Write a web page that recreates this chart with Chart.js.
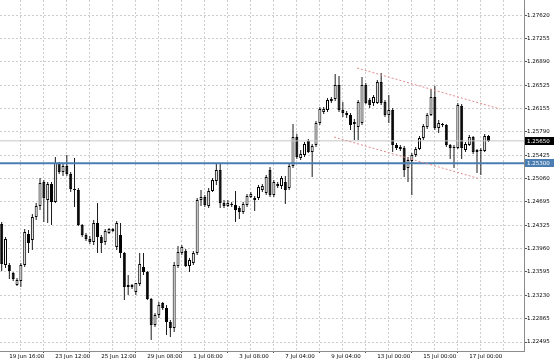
<!DOCTYPE html>
<html><head><meta charset="utf-8">
<script src="https://cdn.jsdelivr.net/npm/chart.js@4/dist/chart.umd.min.js"></script>
<style>html,body{margin:0;padding:0;background:#fff;overflow:hidden}canvas{display:block}</style>
</head><body>
<canvas id="c" width="554" height="360"></canvas>
<script>
// ---- data (GBPUSD, H4 candles, 19 Jun 08:00 -> 17 Jul 20:00) ----
const openP = [
1.24346,1.23703,1.23703,1.23578,1.23390,1.23452,1.23703,1.24190,1.24095,1.24456,
1.24629,1.25005,1.24723,1.24974,1.24691,1.25303,1.25162,1.25256,1.25131,1.24895,
1.24880,1.24331,1.24174,1.24111,1.24064,1.24362,1.24142,1.24064,1.24205,1.24237,
1.23986,1.24174,1.23892,1.23358,1.23390,1.23280,1.23405,1.23672,1.23594,1.23170,
1.22762,1.22919,1.23107,1.23029,1.22809,1.22715,1.23688,1.23892,1.23923,1.23688,
1.23735,1.23892,1.24723,1.24770,1.24629,1.24864,1.25021,1.25193,1.24676,1.24629,
1.24660,1.24644,1.24597,1.24535,1.24644,1.24770,1.24723,1.24754,1.24880,1.24833,
1.25193,1.24801,1.24942,1.24942,1.25005,1.24911,1.25256,1.25711,1.25381,1.25429,
1.25648,1.25476,1.25585,1.25931,1.26103,1.26134,1.26276,1.26307,1.26527,1.26134,
1.26056,1.26056,1.25915,1.25868,1.25931,1.26527,1.26291,1.26244,1.26244,1.26574,
1.26260,1.26056,1.26134,1.25585,1.25554,1.25538,1.25225,1.25334,1.25429,1.25523,
1.25695,1.25868,1.26056,1.26338,1.25852,1.25899,1.25899,1.25585,1.25554,1.25538,
1.26197,1.25507,1.25585,1.25711,1.25507,1.25491,1.25491,1.25727];
const highP = [
1.24378,1.24142,1.23735,1.23594,1.23499,1.23735,1.24268,1.24252,1.24503,1.24676,
1.25068,1.25036,1.25005,1.25005,1.25397,1.25319,1.25303,1.25429,1.25162,1.25381,
1.24911,1.24346,1.24205,1.24158,1.24409,1.24676,1.24174,1.24268,1.24284,1.24284,
1.24393,1.24362,1.23907,1.23546,1.23405,1.23421,1.23892,1.23892,1.23609,1.23186,
1.22950,1.23123,1.23123,1.23076,1.22841,1.23750,1.24001,1.24017,1.23954,1.23813,
1.23923,1.24754,1.24880,1.24801,1.24911,1.25068,1.25303,1.25287,1.24723,1.24723,
1.24691,1.24864,1.24629,1.24691,1.24817,1.24848,1.24786,1.24958,1.24974,1.25115,
1.25240,1.25036,1.25005,1.25099,1.25099,1.25303,1.25915,1.25758,1.25507,1.25632,
1.25680,1.25601,1.25962,1.26182,1.26182,1.26323,1.26338,1.26699,1.26668,1.26260,
1.26119,1.26087,1.25993,1.26291,1.26652,1.26558,1.26323,1.26370,1.26605,1.26715,
1.26291,1.26370,1.26166,1.25617,1.25585,1.25570,1.25397,1.25460,1.25554,1.25727,
1.25915,1.26087,1.26464,1.26511,1.25978,1.25931,1.25915,1.25601,1.25585,1.26244,
1.26229,1.25632,1.25742,1.25727,1.25523,1.25538,1.25758,1.25742];
const lowP = [
1.23609,1.23656,1.23484,1.23452,1.23374,1.23358,1.23672,1.23892,1.23939,1.24409,
1.24566,1.24378,1.24362,1.24331,1.24676,1.25131,1.25099,1.25099,1.24848,1.24613,
1.24315,1.24142,1.24080,1.24033,1.24017,1.23892,1.23892,1.24017,1.24190,1.24221,
1.23939,1.23813,1.23154,1.23233,1.23327,1.23233,1.23374,1.23546,1.23154,1.22527,
1.22731,1.22872,1.22997,1.22605,1.22574,1.22652,1.23656,1.23860,1.23672,1.23594,
1.23703,1.23860,1.24629,1.24613,1.24597,1.24848,1.24958,1.24597,1.24597,1.24613,
1.24613,1.24378,1.24425,1.24503,1.24613,1.24754,1.24550,1.24723,1.24848,1.24801,
1.24770,1.24770,1.24911,1.24895,1.24660,1.24880,1.25225,1.25366,1.25350,1.25397,
1.25460,1.25083,1.25554,1.25899,1.26072,1.26103,1.26244,1.26276,1.26103,1.26025,
1.26009,1.25821,1.25664,1.25664,1.25899,1.26229,1.26166,1.26197,1.26229,1.26213,
1.26025,1.25931,1.25476,1.25507,1.25491,1.25083,1.25005,1.24801,1.25397,1.25507,
1.25664,1.25836,1.26040,1.25821,1.25774,1.25868,1.25554,1.25366,1.25225,1.25523,
1.25366,1.25476,1.25570,1.25444,1.25146,1.25115,1.25476,1.25632];
const closeP = [
1.23719,1.24111,1.23609,1.23484,1.23468,1.23703,1.24221,1.24048,1.24456,1.24629,
1.24989,1.24754,1.24974,1.24691,1.25303,1.25162,1.25256,1.25131,1.24895,1.24880,
1.24331,1.24174,1.24111,1.24064,1.24362,1.24142,1.24048,1.24237,1.24268,1.24268,
1.24362,1.23892,1.23358,1.23390,1.23358,1.23421,1.23719,1.23594,1.23170,1.22762,
1.22919,1.23076,1.23029,1.22809,1.22715,1.23703,1.23907,1.23986,1.23688,1.23782,
1.23892,1.24723,1.24770,1.24644,1.24864,1.25036,1.25193,1.24676,1.24629,1.24676,
1.24644,1.24566,1.24535,1.24660,1.24786,1.24817,1.24754,1.24927,1.24942,1.25083,
1.24801,1.25005,1.24974,1.25068,1.24880,1.25256,1.25711,1.25397,1.25444,1.25601,
1.25476,1.25570,1.25931,1.26150,1.26150,1.26291,1.26307,1.26527,1.26134,1.26087,
1.26087,1.25899,1.25946,1.26260,1.26527,1.26244,1.26213,1.26338,1.26574,1.26244,
1.26056,1.26134,1.25585,1.25538,1.25523,1.25193,1.25350,1.25429,1.25523,1.25695,
1.25883,1.26056,1.26338,1.25852,1.25931,1.25915,1.25585,1.25538,1.25538,1.26213,
1.25538,1.25601,1.25711,1.25476,1.25476,1.25507,1.25727,1.25650];

// time axis labels and the bars they sit on (one label every 12 bars)
const timeTickLabels = ["19 Jun 16:00","23 Jun 12:00","25 Jun 12:00","29 Jun 08:00","1 Jul 08:00",
  "3 Jul 08:00","7 Jul 04:00","9 Jul 04:00","13 Jul 00:00","15 Jul 00:00","17 Jul 00:00"];
const timeTickBars = [2,14,26,38,50,62,74,86,98,110,122];
// price axis tick labels
const priceTicks = [1.27620,1.27255,1.26890,1.26525,1.26155,1.25790,1.25425,1.25060,
  1.24695,1.24325,1.23960,1.23595,1.23230,1.22865,1.22495];
// horizontal levels
const supportLevel = 1.25300;
const lastPrice = 1.25650;
// descending channel (bar index, price)
const channelUpperBars = [92.7, 130.0];
const channelUpperPrices = [1.26793, 1.26150];
const channelLowerBars = [86.7, 124.3];
const channelLowerPrices = [1.25711, 1.25063];

// ---- view settings ----
const X_MIN = -0.44, X_MAX = 136.26;
const Y_MIN = 1.22354, Y_MAX = 1.27860;
const FONT = {family: 'DejaVu Sans', size: 5.5};
const gridBars = [];
for (let b = 2; b <= 134; b += 6) gridBars.push(b);

const N = closeP.length;
const idx = Array.from({length: N}, (_, i) => i);
const isUp = idx.map(i => closeP[i] >= openP[i]);
const wickData = idx.map(i => ({x: i, y: [lowP[i], highP[i]]}));
const bodyData = idx.map(i => ({x: i, y: [openP[i], closeP[i]]}));
const hLine = v => [{x: X_MIN, y: v}, {x: X_MAX, y: v}];
const seg = (bs, ps) => bs.map((b, k) => ({x: b, y: ps[k]}));

const tagPlugin = {
  id: 'priceTags',
  afterDraw(chart) {
    const {ctx, chartArea, scales: {y}} = chart;
    const tags = [{v: lastPrice, bg: '#000000'}, {v: supportLevel, bg: '#4a7db1'}];
    ctx.save();
    ctx.font = FONT.size + 'px "' + FONT.family + '"';
    ctx.textBaseline = 'middle';
    ctx.textAlign = 'left';
    for (const t of tags) {
      const py = Math.round(y.getPixelForValue(t.v));
      ctx.fillStyle = t.bg;
      ctx.fillRect(chartArea.right + 1, py - 4, chart.width - chartArea.right - 1, 8);
      ctx.fillStyle = '#ffffff';
      ctx.fillText(t.v.toFixed(5), chartArea.right + 3, py + 0.5);
    }
    ctx.restore();
  }
};

new Chart(document.getElementById('c'), {
  type: 'bar',
  data: {
    datasets: [
      {type: 'bar', data: wickData, backgroundColor: '#1a1a1a', borderWidth: 0,
       grouped: false, barPercentage: 1, categoryPercentage: 1, maxBarThickness: 1,
       inflateAmount: 0, order: 4},
      {type: 'bar', data: bodyData,
       backgroundColor: c => isUp[c.dataIndex] ? '#ffffff' : '#000000',
       borderColor: '#000000', borderWidth: 1, borderSkipped: false,
       grouped: false, barPercentage: 1, categoryPercentage: 1, maxBarThickness: 3,
       minBarLength: 1, inflateAmount: 0, order: 3},
      {type: 'line', data: hLine(lastPrice), borderColor: '#c6c6c6', borderWidth: 1,
       pointRadius: 0, fill: false, order: 2},
      {type: 'line', data: hLine(supportLevel), borderColor: '#4a7db1', borderWidth: 2,
       pointRadius: 0, fill: false, order: 1},
      {type: 'line', data: seg(channelUpperBars, channelUpperPrices), borderColor: '#e08a8a',
       borderWidth: 1, borderDash: [2, 2], pointRadius: 0, fill: false, order: 0},
      {type: 'line', data: seg(channelLowerBars, channelLowerPrices), borderColor: '#e08a8a',
       borderWidth: 1, borderDash: [2, 2], pointRadius: 0, fill: false, order: 0}
    ]
  },
  options: {
    responsive: false, animation: false, devicePixelRatio: 1,
    layout: {padding: 0},
    plugins: {legend: {display: false}, tooltip: {enabled: false}},
    scales: {
      x: {
        type: 'linear', min: X_MIN, max: X_MAX, offset: false,
        afterBuildTicks: s => { s.ticks = gridBars.map(v => ({value: v})); },
        afterFit: s => { s.height = 9; s.paddingLeft = 0; s.paddingRight = 0; },
        ticks: {
          autoSkip: false, maxRotation: 0, minRotation: 0, align: 'start', padding: 0,
          font: FONT, color: '#000000',
          callback: v => { const k = timeTickBars.indexOf(v); return k >= 0 ? timeTickLabels[k] : ''; }
        },
        grid: {color: '#cdcdcd', lineWidth: 1, drawTicks: true, tickLength: 2,
          tickColor: c => (c.tick && timeTickBars.indexOf(c.tick.value) >= 0) ? '#555555' : 'rgba(0,0,0,0)'},
        border: {display: true, color: '#8c8c8c', width: 1, dash: [2, 2]}
      },
      y: {
        type: 'linear', position: 'right', min: Y_MIN, max: Y_MAX,
        afterBuildTicks: s => { s.ticks = priceTicks.map(v => ({value: v})); },
        afterFit: s => { s.width = 30; s.paddingTop = 0; s.paddingBottom = 0; },
        ticks: {padding: 0, font: FONT, color: '#000000', callback: v => v.toFixed(5)},
        grid: {color: '#cdcdcd', lineWidth: 1, drawTicks: true, tickLength: 3, tickColor: '#555555'},
        border: {display: true, color: '#8c8c8c', width: 1, dash: [2, 2]}
      }
    }
  },
  plugins: [tagPlugin]
});
</script>
</body></html>
